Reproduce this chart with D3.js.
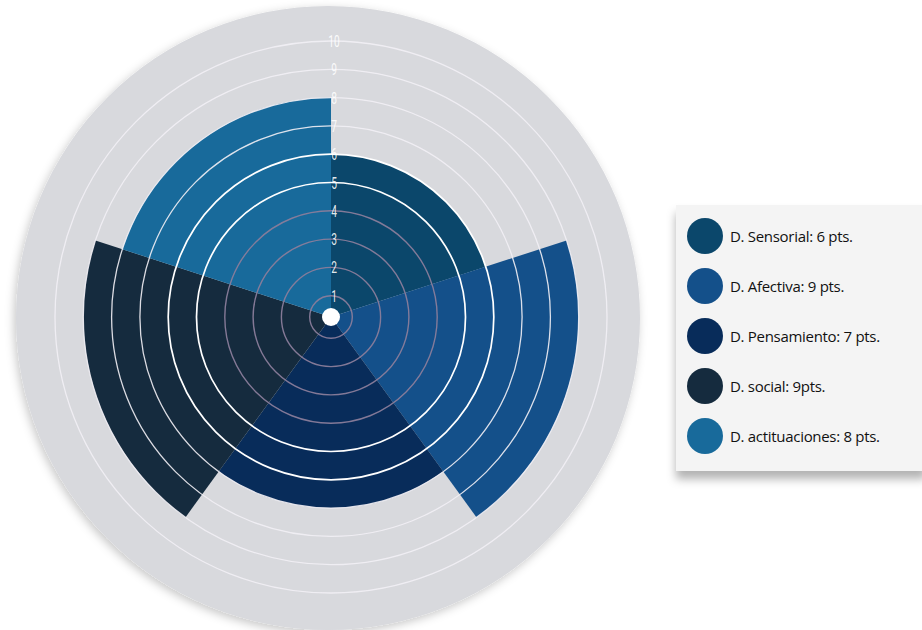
<!DOCTYPE html>
<html>
<head>
<meta charset="utf-8">
<script src="https://cdn.jsdelivr.net/npm/d3@7"></script>
<style>
  html, body { margin: 0; padding: 0; background: #ffffff; }
  svg { display: block; }
</style>
</head>
<body>
<svg id="chart" width="922" height="630"></svg>
<script>
// ---- data ----
const categories = ["D. Sensorial", "D. Afectiva", "D. Pensamiento", "D. social", "D. actituaciones"];
const values = [6, 9, 7, 9, 8];
const legendLabels = ["D. Sensorial: 6 pts.", "D. Afectiva: 9 pts.", "D. Pensamiento: 7 pts.", "D. social: 9pts.", "D. actituaciones: 8 pts."];
const tickValues = [1, 2, 3, 4, 5, 6, 7, 8, 9, 10];
const colors = ["#0b476b", "#14508a", "#082c5a", "#152b3e", "#186a9b"];

// ---- layout ----
const W = 922, H = 630;
const cx = 331, cy = 317;
const svg = d3.select("#chart");
const defs = svg.append("defs");

const sh = defs.append("filter").attr("id", "shadow").attr("x", "-10%").attr("y", "-10%").attr("width", "120%").attr("height", "125%");
sh.append("feDropShadow").attr("dx", -2).attr("dy", 3).attr("stdDeviation", 5).attr("flood-color", "#000").attr("flood-opacity", 0.22);

const sh2 = defs.append("filter").attr("id", "shadow2").attr("x", "-10%").attr("y", "-10%").attr("width", "120%").attr("height", "130%");
sh2.append("feDropShadow").attr("dx", 0).attr("dy", 8).attr("stdDeviation", 5).attr("flood-color", "#000").attr("flood-opacity", 0.3);

const r = d3.scaleLinear().domain([0, 10]).range([-7, 276]);
const angle = d3.scaleBand().domain(categories).range([0, 2 * Math.PI]).padding(0);

const g = svg.append("g").attr("transform", `translate(${cx},${cy})`);

// background disc
g.append("circle").attr("cx", -3).attr("cy", 1).attr("r", 312)
  .attr("fill", "#d8d9dd").attr("filter", "url(#shadow)");

// sectors
const arc = d3.arc()
  .innerRadius(0)
  .outerRadius(d => r(d.value))
  .startAngle(d => angle(d.cat))
  .endAngle(d => angle(d.cat) + angle.bandwidth());

const sectors = categories.map((c, i) => ({ cat: c, value: values[i], color: colors[i] }));
g.selectAll("path.sector").data(sectors).join("path")
  .attr("class", "sector")
  .attr("d", arc)
  .attr("fill", d => d.color);

// rings
g.selectAll("circle.ring").data(tickValues).join("circle")
  .attr("class", "ring")
  .attr("r", d => r(d))
  .attr("fill", "none")
  .attr("stroke", d => d <= 4 ? "#8a7d9b" : (d <= 6 ? "#ffffff" : "#f2eff5"))
  .attr("stroke-width", d => d <= 4 ? 1.4 : (d <= 6 ? 1.7 : 1.3))
  .attr("stroke-opacity", d => d <= 4 ? 0.95 : (d <= 6 ? 1 : 0.9));

// tick labels
g.selectAll("text.tick").data(tickValues).join("text")
  .attr("class", "tick")
  .attr("transform", d => `translate(3,${-r(d)}) scale(0.6,1)`)
  .attr("text-anchor", "middle")
  .attr("dominant-baseline", "central")
  .attr("font-family", "Roboto, 'DejaVu Sans', sans-serif")
  .attr("font-size", 17)
  .attr("fill", "#ffffff")
  .attr("fill-opacity", 0.9)
  .text(d => d);

// center dot
g.append("circle").attr("r", 9).attr("fill", "#ffffff");

// legend
const lg = svg.append("g");
lg.append("rect").attr("x", 676).attr("y", 205).attr("width", 250).attr("height", 266)
  .attr("fill", "#f4f4f4").attr("filter", "url(#shadow2)");

const items = lg.selectAll("g.item").data(legendLabels).join("g")
  .attr("class", "item")
  .attr("transform", (d, i) => `translate(705,${236 + i * 50})`);
items.append("circle").attr("r", 18).attr("fill", (d, i) => colors[i]);
items.append("text")
  .attr("x", 25).attr("y", 5.5)
  .attr("font-family", "'Open Sans', Lato, sans-serif")
  .attr("font-size", 15)
  .attr("letter-spacing", -0.3)
  .attr("fill", "#111111")
  .text(d => d);
</script>
</body>
</html>
